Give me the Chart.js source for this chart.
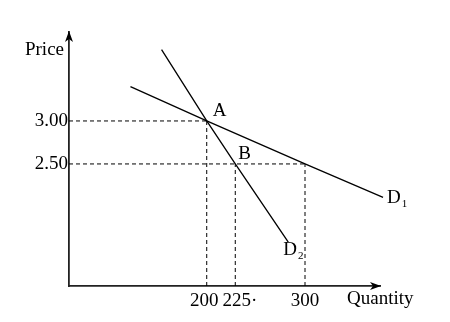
<!DOCTYPE html>
<html><head><meta charset="utf-8">
<script src="https://cdn.jsdelivr.net/npm/chart.js@4/dist/chart.umd.min.js"></script>
<style>html,body{margin:0;padding:0;background:#fff;}#wrap{width:450px;height:322px;}</style>
</head><body><div id="wrap"><canvas id="c" width="450" height="322"></canvas></div>
<script>
// ---- data ----
const priceTicks = [3.00, 2.50];
const quantityTicks = [200, 225, 300];
const quantityTickLabels = ['200 ', '\u2007225·', '300'];
const d1Quantity = [146, 200, 300, 414];
const d1Price = [3.40, 3.00, 2.50, 2.11];
const d2Quantity = [166, 200, 225, 280];
const d2Price = [3.83, 3.00, 2.50, 1.59];
const pointNames = ['A', 'B'];
const pointQuantity = [200, 225];
const pointPrice = [3.00, 2.50];
// horizontal guides: from price axis to quantity at given price
const hGuideQuantity = [200, 300];
const hGuidePrice = [3.00, 2.50];
// vertical guides: from quantity axis up to price at given quantity
const vGuideQuantity = [200, 225, 300];
const vGuidePrice = [3.00, 2.50, 2.50];
const xMin = 113.3, xMax = 408.8, yMin = 1.08, yMax = 4.035;

const FONT = "'Liberation Serif', 'DejaVu Serif', serif";
const zip = (xs, ys) => xs.map((x, i) => ({x, y: ys[i]}));

const datasets = [];
hGuidePrice.forEach((p, i) => datasets.push({
  data: [{x: xMin, y: p}, {x: hGuideQuantity[i], y: p}],
  borderColor: '#000', borderWidth: 1, borderDash: [4, 3], pointRadius: 0, showLine: true
}));
vGuideQuantity.forEach((q, i) => datasets.push({
  data: [{x: q, y: yMin}, {x: q, y: vGuidePrice[i]}],
  borderColor: '#000', borderWidth: 1, borderDash: [4, 3], pointRadius: 0, showLine: true
}));
datasets.push({label: 'D1', data: zip(d1Quantity, d1Price), borderColor: '#000', borderWidth: 1.3, pointRadius: 0, showLine: true, clip: false});
datasets.push({label: 'D2', data: zip(d2Quantity, d2Price), borderColor: '#000', borderWidth: 1.3, pointRadius: 0, showLine: true, clip: false});

const deco = {
  id: 'deco',
  afterDraw(chart) {
    const {ctx, scales: {x, y}, chartArea: a} = chart;
    ctx.save();
    ctx.fillStyle = '#000';
    // arrowheads
    ctx.beginPath();
    ctx.moveTo(a.left, a.top - 1);
    ctx.lineTo(a.left - 4, a.top + 10);
    ctx.lineTo(a.left, a.top + 7);
    ctx.lineTo(a.left + 4, a.top + 10);
    ctx.closePath(); ctx.fill();
    ctx.beginPath();
    ctx.moveTo(a.right + 1, a.bottom);
    ctx.lineTo(a.right - 10, a.bottom - 4);
    ctx.lineTo(a.right - 7, a.bottom);
    ctx.lineTo(a.right - 10, a.bottom + 4);
    ctx.closePath(); ctx.fill();
    // axis titles
    ctx.font = '19px ' + FONT;
    ctx.textBaseline = 'middle';
    ctx.textAlign = 'right';
    ctx.fillText('Price', a.left - 5, a.top + 18);
    ctx.textAlign = 'left';
    ctx.fillText('Quantity', a.right - 33, a.bottom + 13);
    // point labels
    pointNames.forEach((n, i) => {
      const px = x.getPixelForValue(pointQuantity[i]);
      const py = y.getPixelForValue(pointPrice[i]);
      ctx.fillText(n, px + (i === 0 ? 6 : 3), py - 10);
    });
    // curve labels
    const lab = (txt, sub, qx, qy, dx, dy) => {
      const px = x.getPixelForValue(qx) + dx, py = y.getPixelForValue(qy) + dy;
      ctx.font = '19px ' + FONT;
      ctx.fillText(txt, px, py);
      const w = ctx.measureText(txt).width;
      ctx.font = '11px ' + FONT;
      ctx.fillText(sub, px + w + 1, py + 6);
    };
    lab('D', '1', d1Quantity[3], d1Price[3], 4, 1);
    lab('D', '2', d2Quantity[3], d2Price[3], -5, 8);
    ctx.restore();
  }
};

new Chart(document.getElementById('c'), {
  type: 'scatter',
  data: {datasets},
  options: {
    responsive: false, animation: false, devicePixelRatio: 1,
    layout: {padding: {left: 0, top: 32, right: 70, bottom: 0}},
    plugins: {legend: {display: false}, tooltip: {enabled: false}},
    scales: {
      x: {
        type: 'logarithmic', min: xMin, max: xMax,
        afterBuildTicks: s => { s.ticks = quantityTicks.map(v => ({value: v})); },
        afterFit: s => { s.height = 36; },
        grid: {display: false, drawTicks: false},
        border: {display: true, color: '#222', width: 1.8},
        ticks: {font: {family: FONT, size: 19}, color: '#000', padding: 4, maxRotation: 0, autoSkip: false,
          callback: (v, i) => quantityTickLabels[i]}
      },
      y: {
        type: 'linear', min: yMin, max: yMax,
        afterBuildTicks: s => { s.ticks = priceTicks.map(v => ({value: v})); },
        afterFit: s => { s.width = 69; },
        grid: {display: false, drawTicks: false},
        border: {display: true, color: '#222', width: 1.8},
        ticks: {font: {family: FONT, size: 19}, color: '#000', padding: 1, autoSkip: false, callback: v => Number(v).toFixed(2)}
      }
    }
  },
  plugins: [deco]
});
</script></body></html>
